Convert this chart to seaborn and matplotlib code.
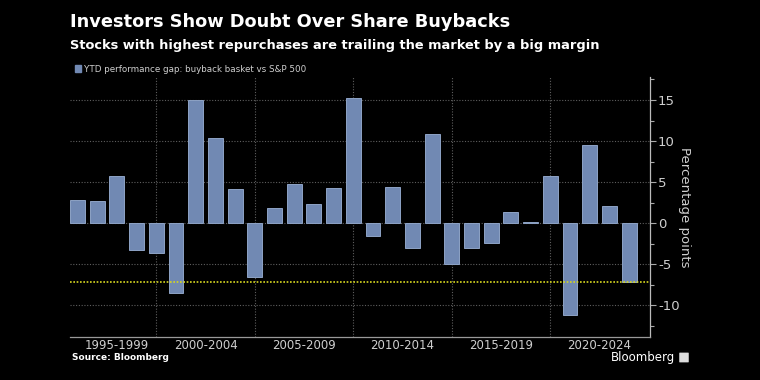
import numpy as np
import pandas as pd
import matplotlib.pyplot as plt
from matplotlib.patches import Patch, FancyBboxPatch
from matplotlib.ticker import MultipleLocator, FixedLocator
import seaborn as sns

years = [str(y) for y in range(1995, 2024)]
gap = [2.8, 2.7, 5.7, -3.3, -3.6,
       -8.5, 15.0, 10.4, 4.2, -6.5,
       1.8, 4.8, 2.4, 4.3, 15.2,
       -1.5, 4.4, -3.0, 10.9, -4.9,
       -3.0, -2.4, 1.4, 0.2, 5.7,
       -11.1, 9.5, 2.1, -7.2]
group_labels = ['1995-1999', '2000-2004', '2005-2009', '2010-2014', '2015-2019', '2020-2024']
latest_gap = gap[-1]

bar_color = '#7189b3'
grid_color = '#5e5e5e'
text_color = '#cfcfcf'

sns.set_style('dark', {'axes.facecolor': 'black', 'figure.facecolor': 'black'})
plt.rcParams['font.family'] = ['DejaVu Sans']
plt.rcParams['axes.unicode_minus'] = False

df = pd.DataFrame({'year': years, 'gap': gap})

fig = plt.figure(figsize=(7.6, 3.8), dpi=100)
fig.patch.set_facecolor('black')
ax = fig.add_axes([70 / 760, 43.3 / 380, 579.6 / 760, 259.7 / 380])
ax.set_facecolor('black')

sns.barplot(data=df, x='year', y='gap', color=bar_color, width=0.76,
            edgecolor='#8ea3c6', linewidth=0.7, saturation=1, ax=ax, zorder=3)

ax.set_xlim(-0.38, 29.04)
ax.set_ylim(-13.8, 17.8)

# horizontal grid
for v in [-10, -5, 0, 5, 10, 15]:
    ax.axhline(v, color=grid_color, lw=0.8, ls=(0, (1, 1.5)), zorder=1)

# group separators
seps = [4, 9, 14, 19, 24]
for s in seps:
    ax.axvline(s, color=grid_color, lw=0.8, ls=(0, (1, 1.5)), zorder=1)

# yellow reference line at latest value
ax.axhline(latest_gap, color='#d8d820', lw=1.2, ls=(0, (1, 1)), zorder=4)

# x axis ticks
ax.xaxis.set_major_locator(FixedLocator(seps))
ax.xaxis.set_minor_locator(FixedLocator(np.arange(0, 29)))
ax.set_xticklabels([])
ax.tick_params(axis='x', which='major', length=23, width=0.8, color='#777777', direction='out')
ax.tick_params(axis='x', which='minor', length=3, width=0.8, color='#777777', direction='inout')
centers = [2.0, 6.5, 11.5, 16.5, 21.5, 26.5]
for c, lab in zip(centers, group_labels):
    ax.text(c, -0.008, lab, transform=ax.get_xaxis_transform(), ha='center', va='top',
            color=text_color, fontsize=8.5)

# y axis on right
ax.yaxis.tick_right()
ax.yaxis.set_label_position('right')
ax.yaxis.set_major_locator(MultipleLocator(5))
ax.yaxis.set_minor_locator(MultipleLocator(2.5))
ax.tick_params(axis='y', which='major', length=4, width=0.8, color='#aaaaaa',
               labelcolor=text_color, labelsize=9.5, pad=2)
ax.tick_params(axis='y', which='minor', length=3, width=0.8, color='#aaaaaa')
ax.set_ylabel('Percentage points', color=text_color, fontsize=9.5, rotation=270, labelpad=8)
ax.set_xlabel('')

for side in ['left', 'top']:
    ax.spines[side].set_visible(False)
ax.spines['right'].set_color('#bbbbbb')
ax.spines['bottom'].set_color('#999999')
ax.spines['right'].set_linewidth(0.9)
ax.spines['bottom'].set_linewidth(0.9)

# titles
fig.text(70 / 760, 1 - 22 / 380, 'Investors Show Doubt Over Share Buybacks', color='white',
         fontsize=12.8, fontweight='bold', va='center', ha='left')
fig.text(70 / 760, 1 - 46 / 380, 'Stocks with highest repurchases are trailing the market by a big margin',
         color='white', fontsize=9.4, fontweight='bold', va='center', ha='left')

fig.legend(handles=[Patch(facecolor=bar_color, edgecolor=bar_color)],
           labels=['YTD performance gap: buyback basket vs S&P 500'],
           loc='center left', bbox_to_anchor=(67 / 760, 1 - 69 / 380), frameon=False,
           fontsize=6.3, handlelength=0.7, handleheight=0.9, handletextpad=0.3,
           labelcolor=text_color)

fig.text(72 / 760, 1 - 357 / 380, 'Source: Bloomberg', color='white', fontsize=6.5,
         fontweight='bold', va='center', ha='left')
fig.text(675 / 760, 1 - 357 / 380, 'Bloomberg', color='white', fontsize=8.5,
         va='center', ha='right')
fig.patches.append(FancyBboxPatch((680 / 760, 1 - 362 / 380), 8 / 760, 9 / 380,
                                  boxstyle='round,pad=0.001', transform=fig.transFigure,
                                  facecolor='#dddddd', edgecolor='none'))

fig.savefig('out.png', dpi=100, facecolor='black')
